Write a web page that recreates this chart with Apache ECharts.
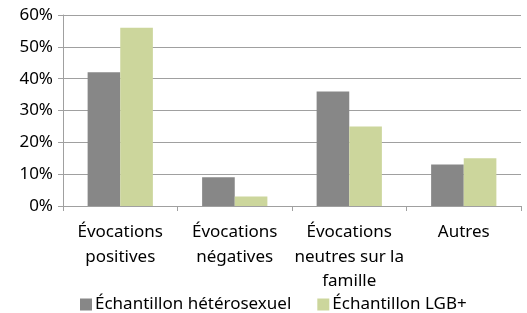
<!DOCTYPE html>
<html>
<head>
<meta charset="utf-8">
<script src="https://cdn.jsdelivr.net/npm/echarts@6/dist/echarts.min.js"></script>
<style>
  html, body { margin: 0; padding: 0; background: #fff; }
  #chart { width: 527px; height: 313px; }
</style>
</head>
<body>
<div id="chart"></div>
<script>
const categories = ['Évocations\npositives', 'Évocations\nnégatives', 'Évocations\nneutres sur la\nfamille', 'Autres'];
const heteroValues = [42, 9, 36, 13];
const lgbValues = [56, 3, 25, 15];
const seriesNames = ['Échantillon hétérosexuel', 'Échantillon LGB+'];

const chart = echarts.init(document.getElementById('chart'));
const axisColor = '#a0a0a0';
const font = 'Noto Sans';

chart.setOption({
  animation: false,
  textStyle: { fontFamily: font },
  grid: { left: 63, right: 6, top: 15, bottom: 107 },
  legend: {
    bottom: 0,
    left: 80,
    padding: 0,
    itemWidth: 12,
    itemHeight: 12,
    itemGap: 26,
    icon: 'rect',
    textStyle: { color: '#000', fontSize: 17, fontFamily: font, padding: [0, 0, 0, -2] },
    data: seriesNames,
  },
  xAxis: {
    type: 'category',
    data: categories,
    axisLine: { lineStyle: { color: axisColor, width: 1 } },
    axisTick: { show: true, length: 5, lineStyle: { color: axisColor } },
    axisLabel: {
      color: '#000',
      fontSize: 17,
      lineHeight: 24.5,
      margin: 14,
      interval: 0,
    },
  },
  yAxis: {
    type: 'value',
    min: 0,
    max: 60,
    interval: 10,
    axisLine: { show: true, lineStyle: { color: axisColor, width: 1 } },
    axisTick: { show: true, length: 5, lineStyle: { color: axisColor } },
    splitLine: { lineStyle: { color: axisColor, width: 1 } },
    axisLabel: {
      color: '#000',
      fontSize: 17,
      margin: 10,
      formatter: (v) => v + '%',
    },
  },
  series: [
    {
      name: seriesNames[0],
      type: 'bar',
      data: heteroValues,
      itemStyle: { color: '#878787' },
      barGap: '0%',
      barCategoryGap: '43%',
    },
    {
      name: seriesNames[1],
      type: 'bar',
      data: lgbValues,
      itemStyle: { color: '#ccd69c' },
      barGap: '0%',
      barCategoryGap: '43%',
    },
  ],
});
</script>
</body>
</html>
